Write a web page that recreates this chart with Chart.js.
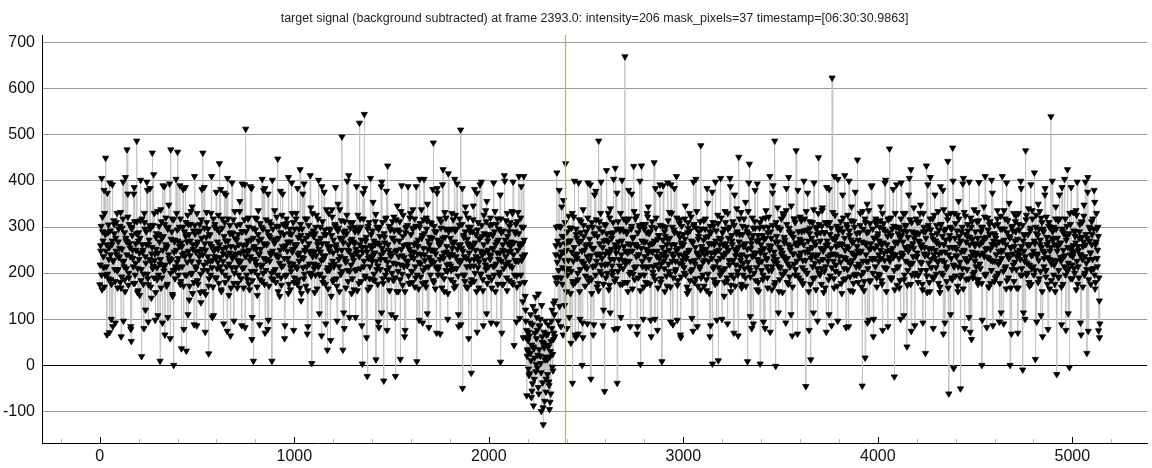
<!DOCTYPE html>
<html>
<head>
<meta charset="utf-8">
<script src="https://cdn.jsdelivr.net/npm/chart.js@4.4.1/dist/chart.umd.min.js"></script>
<style>
  body { margin: 0; background: #fff; }
</style>
</head>
<body>
<canvas id="signalChart" width="1152" height="468"></canvas>
<script>
// target signal, three interleaved samplings
// signalA: frames 0,5,10...  signalB: frames 2,7,12...  signalC: frames 4,9,14...
var frameStep = 5;
var offsetA = 0, offsetB = 2, offsetC = 4;
var currentFrame = 2393;
var titleText = 'target signal (background subtracted) at frame 2393.0: intensity=206 mask_pixels=37 timestamp=[06:30:30.9863]';

var signalA = [
    175, 248, 406, 290, 212, 330, 450, 262, 198, 305, 71, 240, 176, 392, 228, 286, 92, 310, 205, 268,
    236, 180, 62, 298, 398, 214, 160, 270, 468, 322, 190, 255, 78, 300, 232, 372, 178, 264, 487, 210,
    288, 152, 402, 19, 245, 198, 310, 120, 262, 380, 175, 230, 296, 146, 461, 215, 330, 98, 252, 186,
    244, 302, 9, 168, 276, 390, 205, 66, 320, 258, 104, 348, 226, 468, 290, 150, 0, 272, 214, 330,
    463, 196, 258, 318, 36, 240, 172, 290, 386, 31, 224, 306, 142, 270, 198, 344, 252, 88, 285, 210,
    330, 176, 248, 292, 136, 382, 461, 218, 264, 154, 310, 236, 25, 282, 196, 410, 228, 108, 300, 254,
    190, 268, 326, 438, 214, 160, 298, 242, 374, 180, 256, 74, 318, 220, 286, 168, 396, 238, 96, 276,
    212, 304, 178, 262, 356, 226, 86, 290, 248, 392, 513, 196, 270, 320, 164, 236, 384, 184, 9, 258,
    294, 218, 152, 336, 242, 186, 274, 404, 200, 262, 70, 316, 230, 372, 172, 278, 240, 9, 296, 204,
    266, 180, 322, 448, 236, 150, 288, 214, 372, 254, 58, 302, 196, 268, 408, 222, 164, 284, 246, 310,
    190, 258, 330, 176, 278, 226, 425, 140, 296, 212, 394, 248, 172, 318, 84, 264, 200, 342, 4, 236,
    280, 158, 300, 218, 262, 402, 196, 246, 64, 312, 230, 284, 176, 338, 33, 256, 206, 294, 150, 322,
    244, 186, 302, 262, 96, 350, 214, 276, 198, 496, 33, 288, 232, 168, 326, 250, 412, 204, 270, 156,
    310, 228, 264, 104, 388, 246, 296, 526, 210, 272, 3, 318, 545, 190, 256, -24, 302, 236, 170, 284,
    226, 354, 198, 262, 12, 300, 216, 82, 280, 240, 398, 188, -34, 266, 318, 206, 433, 250, 162, 294,
    238, 312, 184, 270, -24, 220, 346, 160, 290, 13, 252, 198, 326, 234, 76, 300, 216, 388, 262, 178,
    284, 204, 338, 246, 170, 302, 8, 258, 224, 404, 192, 276, 92, 316, 240, 180, 296, 350, 214, 262,
    196, 308, 250, 483, 224, 166, 290, 384, 208, 268, 68, 312, 236, 425, 188, 278, 320, 218, 156, 294,
    242, 186, 330, 264, 210, 404, 172, 296, 228, 84, 318, 511, 254, -50, 282, 196, 344, 232, 168, 300,
    258, 214, -17, 290, 346, 182, 266, 236, 72, 310, 224, 392, 198, 280, 162, 326, 246, 208, 356, 270,
    192, 304, 238, 168, 282, 396, 216, 262, 90, 318, 230, 196, 7, 288, 250, 176, 412, 272, 220, 330,
    246, 184, 310, 268, 212, 398, 43, 290, 226, 170, 332, 410, 258, 196, 300, 138, 410, 240, 96, -66,
    30, 72, -18, 110, 44, -40, -88, 16, 148, 58, -6, 155, 84, 20, -100, 62, -129, 38, 96, -30,
    12, 88, -44, -80, 52, 120, -12, 70, 140, 260, 418, 190, 302, 236, 84, 344, 212, 280, 130, 438,
    250, 196, 324, 270, 156, 298, -39, 226, 400, 180, 284, 242, 68, 316, 208, 270, 0, 338, 222, 172,
    290, 236, 396, 190, 262, -30, 310, 214, 88, 286, 378, 240, 178, 487, 264, 330, 198, 256, 120, -57,
    304, 423, 220, 268, 174, 340, 252, 196, 288, 78, 428, 244, -39, 312, 230, 176, 296, 402, 210, 258,
    670, 226, 290, 160, 318, 248, 202, 372, 276, 432, 186, 262, 324, 84, 240, 298, 2, 433, 214, 268,
    196, 306, 252, 178, 344, 230, 290, 62, 264, 214, 440, 186, 320, 248, 168, 282, 392, 220, 8, 272,
    238, 160, 300, 262, 396, 204, 276, 94, 330, 242, 190, 288, 226, 410, 174, 254, 308, 66, 266, 218,
    284, 200, 346, 232, 156, 298, 250, 184, 322, 268, 74, 306, 220, 404, 244, 172, 290, 210, 477, 258,
    196, 314, 240, 278, 162, 352, 226, 290, 86, 264, 3, 302, 214, 398, 248, 180, 10, 276, 232, 320,
    206, 262, 150, 334, 244, 190, 296, 228, 406, 174, 270, 312, 70, 252, 218, 340, 196, 452, 284, 236,
    168, 302, 258, 210, 354, 236, 8, 286, 437, 192, 264, 320, 90, 244, 298, 212, 394, 180, 272, 3,
    250, 318, 196, 274, 80, 336, 230, 288, 206, 410, 258, 164, 304, 226, 487, -2, 280, 342, 214, 186,
    296, 240, 158, 324, 266, 204, 384, 232, 176, 290, 250, 346, 64, 278, 220, 310, 466, 196, 262, 238,
    322, 184, 270, 228, 400, 206, -46, 294, 246, 160, 312, 12, 276, 214, 338, 190, 262, 300, 96, 451,
    226, 288, 176, 342, 252, 204, 310, 72, 270, 236, 382, 194, 298, 624, 242, 168, 326, 218, 280, 404,
    200, 264, 312, 156, 290, 234, 412, 188, 258, 326, 84, 282, 220, 344, 266, 178, 300, 240, 196, 446,
    272, 214, 330, 248, -45, 296, 182, 16, 262, 350, 226, 98, 308, 254, 390, 200, 276, 232, 318, 170,
    286, 240, 196, 344, 262, 76, 308, 228, 402, 210, 280, 318, 470, 250, 186, 296, 234, -25, 330, 268,
    212, 300, 168, 276, 396, 238, 292, 186, 330, 254, 40, 278, 222, 316, 425, 196, 264, 342, 86, 288,
    236, 310, 196, 268, 348, 222, 164, 290, 256, 26, 433, 240, 304, 180, 408, 212, 282, 80, 326, 250,
    198, 286, 334, 242, 170, 306, 228, 380, 262, 92, 296, 214, 443, -62, 274, 330, 190, 472, -7, 256,
    308, 236, 172, 356, 264, -51, 290, 210, 406, 248, 324, 186, 280, 228, 398, 72, 300, 246, 198, 338,
    260, 214, 312, 176, 397, 240, 290, 0, 268, 344, 196, 252, 82, 320, 232, 284, 178, 402, 226, 270,
    304, 190, 262, 336, 220, 94, 296, 246, 410, 204, 272, 318, 166, 288, 236, 352, 0, 256, 208, 292,
    182, 270, 324, 236, 70, 306, 250, 400, 210, -10, 284, 226, 466, 196, 262, 340, 172, 298, 238, 318,
    214, 418, 13, 286, 242, 350, 188, 272, 320, 160, 296, 232, 384, 206, 262, 78, 310, 248, 540, 276,
    228, 300, 176, 344, -20, 258, 206, 318, 266, 88, 290, 236, 404, 196, 280, 425, 222, -5, 306, 254,
    188, 332, 246, 290, 164, 398, 214, 276, 240, 66, 310, 258, 348, 200, 284, 26, 408, 230, 296, 176,
    262, 318, 210, 354, 180, 296, 250, 75, 60
];

var signalB = [
    218, 302, 164, 270, 380, 196, 248, 66, 288, 230, 396, 186, 262, 84, 314, 208, 276, 240, 168, 296,
    254, 332, 192, 226, 96, 288, 408, 210, 268, 174, 306, 236, 52, 282, 214, 386, 196, 250, 312, 162,
    230, 276, 184, 318, 250, 80, 296, 222, 398, 188, 262, 304, 170, 242, 210, 414, 228, 158, 286, 334,
    196, 268, 230, 312, 92, 280, 388, 218, 254, 176, 300, 232, 58, 274, 318, 206, 246, 188, 404, 224,
    270, 212, 390, 182, 258, 300, 78, 236, 280, 196, 326, 248, 172, 306, 226, 156, 292, 410, 214, 262,
    184, 290, 236, 158, 316, 252, 206, 386, 72, 278, 224, 296, 188, 264, 330, 212, 170, 248, 306, 232,
    296, 224, 178, 262, 382, 204, 252, 90, 310, 270, 214, 406, 190, 244, 64, 288, 232, 316, 200, 256,
    240, 168, 284, 222, 306, 188, 394, 260, 212, 82, 290, 246, 318, 176, 228, 272, 56, 298, 254, 204,
    226, 318, 196, 270, 88, 252, 300, 218, 380, 176, 264, 228, 290, 98, 312, 244, 200, 402, 186, 266,
    208, 274, 236, 160, 302, 250, 190, 326, 216, 284, 86, 260, 308, 232, 176, 296, 212, 396, 252, 76,
    296, 214, 262, 384, 186, 244, 306, 156, 270, 232, 198, 318, 256, 68, 282, 220, 412, 194, 248, 292,
    210, 286, 238, 166, 318, 252, 198, 276, 388, 180, 236, 294, 90, 264, 212, 330, 248, 54, 282, 226,
    272, 220, 386, 188, 250, 298, 160, 236, 314, 204, 266, 80, 292, 226, 400, 182, 248, 310, 218, 274,
    236, 164, 290, 252, 208, 326, 178, 262, 300, 86, 246, 214, 384, 270, 60, 296, 232, 188, 406, 254,
    292, 240, 184, 312, 226, 266, 94, 300, 208, 388, 254, 178, 286, 230, 320, 76, 262, 212, 296, 244,
    200, 276, 322, 190, 248, 160, 294, 236, 312, 218, 390, 174, 260, 62, 288, 226, 304, 194, 252, 330,
    236, 180, 298, 262, 214, 388, 196, 272, 98, 308, 240, 282, 206, 404, 228, 170, 314, 252, 82, 278,
    250, 222, 382, 180, 290, 242, 70, 272, 214, 318, 264, 196, 392, 232, 160, 296, 246, 204, 416, 220,
    276, 206, 254, 316, 168, 292, 236, 394, 194, 260, 222, 88, 306, 248, 278, 182, 330, 214, 264, 58,
    228, 300, 186, 262, 216, 382, 250, 160, 294, 232, 274, 198, 398, 240, 86, 286, 218, 312, 178, 250,
    284, 230, 92, 306, 252, 196, 334, 220, 268, 176, 296, 244, 318, 70, 262, 210, 400, 236, 190, 280,
    224, 302, 258, 180, 330, 240, 196, 286, 94, 312, 226, 264, 178, 388, 236, 60, 272, 150, 60, 20,
    54, -22, 92, 10, -56, 128, 36, 70, -14, 104, 22, -62, 86, 4, 130, -38, 48, -78, 18, 66,
    -20, 40, -96, 30, 96, -4, 56, 110, 190, 300, 224, 96, 380, 262, 190, 280, 66, 246, 310, 206,
    80, 268, 210, 298, 48, 246, 182, 322, 238, 60, 276, 200, 396, 160, 288, 226, 92, 304, 250, 194,
    262, 90, 300, 228, 392, 186, 254, 66, 284, 216, 316, 170, 242, 298, 204, 398, 232, 86, 270, 218,
    190, 286, 248, 164, 320, 230, 276, 204, 404, 182, 254, 296, 80, 268, 216, 330, 240, 176, 292, 226,
    248, 312, 180, 264, 226, 84, 296, 248, 198, 334, 262, 214, 68, 288, 240, 400, 196, 270, 306, 170,
    236, 180, 288, 322, 214, 262, 98, 300, 246, 194, 270, 384, 218, 76, 282, 232, 304, 188, 256, 390,
    210, 280, 236, 172, 314, 250, 198, 392, 226, 88, 294, 262, 208, 320, 184, 240, 278, 60, 302, 228,
    262, 318, 196, 244, 288, 162, 330, 226, 270, 208, 398, 180, 256, 298, 84, 274, 236, 312, 190, 248,
    224, 172, 296, 252, 384, 198, 264, 62, 288, 232, 310, 186, 244, 270, 98, 326, 212, 262, 406, 200,
    288, 236, 180, 310, 256, 90, 276, 218, 388, 196, 262, 228, 304, 172, 246, 290, 64, 268, 214, 332,
    240, 196, 318, 264, 172, 290, 224, 396, 206, 254, 80, 282, 238, 312, 184, 270, 230, 160, 298, 244,
    206, 282, 94, 254, 320, 232, 190, 300, 260, 72, 276, 214, 390, 246, 180, 310, 222, 268, 160, 296,
    250, 198, 330, 236, 272, 92, 306, 220, 408, 192, 258, 284, 170, 242, 318, 208, 266, 68, 290, 234,
    268, 314, 212, 178, 292, 246, 334, 200, 270, 76, 298, 232, 256, 188, 396, 222, 164, 284, 240, 306,
    196, 254, 302, 230, 158, 288, 214, 386, 262, 186, 310, 240, 86, 276, 226, 410, 204, 258, 172, 292,
    236, 296, 178, 262, 320, 210, 250, 82, 300, 226, 400, 192, 272, 244, 160, 312, 236, 198, 286, 248,
    220, 288, 246, 170, 334, 202, 266, 310, 226, 92, 290, 252, 184, 388, 230, 62, 276, 214, 306, 260,
    198, 270, 314, 232, 176, 296, 244, 396, 210, 262, 84, 288, 226, 320, 190, 254, 302, 164, 240, 392,
    266, 214, 298, 100, 282, 238, 330, 196, 256, 304, 174, 248, 406, 218, 74, 290, 236, 276, 200, 318,
    244, 180, 286, 330, 206, 262, 92, 300, 238, 276, 194, 392, 222, 160, 294, 254, 318, 188, 232, 270,
    304, 226, 178, 262, 388, 200, 280, 68, 292, 246, 210, 326, 168, 256, 300, 232, 186, 400, 214, 276,
    238, 292, 160, 318, 224, 270, 196, 394, 250, 80, 284, 226, 306, 188, 262, 320, 56, 274, 240, 202,
    290, 244, 332, 186, 262, 210, 300, 98, 276, 236, 410, 198, 254, 294, 170, 312, 228, 262, 86, 286,
    226, 276, 194, 306, 248, 178, 324, 232, 268, 90, 296, 214, 396, 240, 190, 280, 256, 68, 302, 218,
    258, 312, 208, 246, 168, 294, 230, 384, 196, 270, 248, 100, 316, 222, 284, 180, 262, 392, 210, 240,
    196, 264, 300, 94, 282, 228, 334, 204, 256, 62, 290, 244, 206, 322, 176, 268, 230, 298, 184, 400,
    272, 218, 160, 296, 248, 314, 192, 264, 226, 386, 176, 286, 238, 76, 302, 256, 210, 330, 188, 248,
    236, 292, 200, 266, 326, 176, 250, 290, 92, 312, 230, 268, 196, 398, 222, 276, 74, 300, 244, 206,
    284, 210, 380, 166, 268, 232, 300, 190, 90
];

var signalC = [
    260, 196, 322, 236, 170, 284, 214, 374, 188, 256, 292, 100, 270, 226, 306, 182, 248, 330, 208, 234,
    302, 168, 252, 318, 226, 186, 276, 240, 372, 200, 264, 84, 296, 250, 178, 312, 222, 286, 158, 270,
    244, 314, 208, 262, 176, 330, 236, 290, 198, 94, 272, 384, 224, 256, 304, 190, 242, 278, 212, 108,
    284, 220, 338, 190, 250, 214, 306, 262, 172, 296, 240, 394, 200, 230, 154, 316, 268, 208, 250, 294,
    232, 300, 176, 266, 214, 382, 244, 196, 310, 268, 110, 284, 238, 334, 200, 262, 180, 304, 246, 86,
    268, 224, 306, 198, 276, 240, 160, 298, 250, 332, 206, 172, 284, 226, 258, 104, 318, 236, 190, 376,
    210, 252, 290, 234, 164, 318, 226, 280, 196, 370, 238, 270, 152, 304, 258, 212, 286, 178, 334, 242,
    272, 228, 196, 334, 244, 290, 210, 168, 316, 236, 262, 186, 300, 250, 388, 204, 104, 276, 230, 320,
    252, 170, 284, 240, 308, 214, 182, 296, 232, 384, 206, 262, 78, 282, 226, 306, 188, 248, 272, 336,
    240, 302, 196, 276, 222, 378, 174, 258, 306, 232, 194, 318, 248, 156, 286, 268, 204, 330, 220, 180,
    262, 318, 210, 240, 296, 168, 282, 234, 372, 188, 250, 276, 214, 162, 304, 246, 198, 286, 330, 220,
    246, 196, 326, 270, 214, 112, 300, 228, 264, 190, 376, 238, 284, 206, 166, 296, 258, 218, 338, 182,
    214, 306, 256, 172, 292, 230, 338, 198, 250, 276, 114, 312, 224, 286, 206, 262, 104, 298, 240, 188,
    268, 300, 206, 244, 162, 290, 236, 318, 182, 256, 374, 226, 194, 278, 246, 164, 310, 214, 260, 234,
    186, 270, 244, 328, 208, 176, 296, 262, 230, 114, 310, 246, 278, 196, 378, 224, 186, 302, 238, 110,
    276, 222, 292, 104, 316, 250, 204, 270, 186, 334, 238, 280, 214, 160, 298, 262, 226, 178, 320, 246,
    204, 296, 232, 318, 190, 266, 242, 166, 300, 220, 338, 178, 254, 286, 212, 320, 112, 270, 234, 310,
    228, 276, 184, 302, 250, 212, 374, 196, 262, 230, 298, 168, 276, 244, 332, 206, 258, 100, 290, 236,
    216, 296, 240, 180, 268, 326, 210, 252, 110, 304, 262, 228, 384, 196, 236, 290, 170, 274, 320, 244,
    290, 178, 256, 316, 230, 200, 284, 374, 212, 168, 276, 248, 304, 186, 262, 228, 336, 112, 280, 214,
    240, 320, 186, 254, 214, 290, 160, 306, 244, 272, 202, 370, 226, 176, 292, 248, 220, 314, 162, 264,
    290, 216, 248, 334, 176, 266, 228, 306, 194, 250, 286, 102, 320, 228, 264, 300, 180, 120, 76, 34,
    -8, 64, 26, -70, 88, 40, -30, 118, 2, 76, -48, 34, 100, -16, 50, -92, 72, 12, -58, 44,
    68, -36, 18, -62, 80, 24, 134, 62, 240, 178, 270, 206, 128, 300, 246, 176, 358, 228, 264, 160,
    290, 228, 104, 270, 204, 330, 176, 256, 66, 296, 232, 186, 266, 100, 312, 248, 60, 280, 214, 258,
    210, 320, 182, 274, 238, 156, 300, 254, 370, 196, 226, 280, 162, 312, 240, 218, 290, 176, 306, 242,
    272, 200, 330, 242, 114, 286, 216, 310, 230, 262, 188, 374, 204, 256, 292, 104, 270, 228, 318, 180,
    220, 286, 244, 380, 198, 262, 302, 166, 278, 212, 318, 236, 258, 190, 304, 162, 254, 226, 100, 296,
    268, 212, 330, 244, 286, 176, 248, 312, 202, 266, 100, 298, 236, 274, 210, 372, 180, 242, 302, 226,
    290, 246, 194, 274, 220, 332, 170, 262, 300, 236, 384, 204, 250, 98, 286, 222, 316, 192, 260, 238,
    212, 274, 240, 170, 310, 248, 292, 204, 102, 266, 302, 228, 188, 334, 240, 280, 214, 164, 296, 252,
    272, 228, 318, 186, 244, 280, 156, 302, 244, 376, 210, 262, 176, 292, 226, 308, 250, 196, 274, 100,
    240, 296, 210, 264, 182, 330, 250, 300, 160, 282, 226, 190, 370, 238, 286, 204, 256, 318, 228, 176,
    284, 222, 260, 190, 300, 252, 334, 212, 106, 274, 236, 298, 200, 380, 244, 164, 282, 222, 310, 262,
    226, 186, 300, 240, 276, 214, 168, 322, 250, 290, 206, 374, 236, 174, 268, 230, 300, 114, 256, 212,
    318, 244, 198, 278, 230, 336, 180, 262, 298, 214, 110, 286, 242, 318, 196, 262, 226, 380, 190, 274,
    244, 290, 176, 262, 318, 228, 200, 374, 252, 286, 176, 240, 310, 114, 268, 236, 296, 210, 330, 200,
    270, 210, 336, 248, 288, 168, 260, 306, 226, 110, 284, 254, 212, 332, 188, 272, 240, 302, 96, 262,
    298, 224, 262, 370, 186, 276, 232, 306, 208, 254, 292, 162, 314, 228, 268, 196, 376, 214, 258, 180,
    246, 304, 196, 268, 226, 162, 318, 240, 288, 210, 336, 182, 264, 232, 296, 100, 254, 312, 190, 280,
    226, 300, 250, 184, 330, 266, 212, 292, 160, 248, 316, 234, 190, 282, 242, 382, 206, 266, 300, 174,
    286, 232, 184, 318, 244, 268, 108, 304, 226, 290, 206, 370, 258, 176, 310, 222, 254, 196, 282, 236,
    196, 270, 312, 224, 256, 176, 330, 242, 290, 206, 158, 298, 252, 318, 230, 192, 274, 240, 370, 212,
    266, 224, 294, 158, 306, 246, 196, 338, 224, 272, 182, 316, 240, 282, 110, 296, 256, 218, 330, 194,
    252, 326, 214, 280, 190, 246, 300, 166, 332, 232, 268, 208, 292, 104, 278, 236, 312, 190, 264, 226,
    238, 186, 276, 314, 220, 264, 178, 300, 244, 322, 196, 278, 234, 170, 306, 252, 206, 374, 262, 182,
    282, 240, 318, 200, 268, 226, 114, 296, 250, 336, 210, 262, 184, 314, 232, 276, 168, 300, 242, 330,
    224, 290, 168, 274, 330, 240, 196, 258, 304, 114, 282, 236, 326, 200, 260, 218, 292, 176, 336, 248,
    270, 206, 326, 238, 180, 296, 262, 108, 310, 248, 214, 370, 192, 278, 234, 302, 166, 256, 220, 290,
    196, 262, 318, 228, 276, 190, 370, 234, 170, 296, 250, 214, 318, 272, 204, 112, 286, 240, 386, 218,
    260, 210, 280, 336, 226, 258, 190, 306, 240, 278, 170, 324, 236, 262, 208, 376, 186, 270, 244, 312,
    230, 296, 196, 262, 330, 214, 280, 140
];

function toPoints(values, offset) {
    return values.map(function (v, i) {
        return { x: offset + i * frameStep, y: v };
    });
}

var points = toPoints(signalA, offsetA)
    .concat(toPoints(signalB, offsetB), toPoints(signalC, offsetC))
    .sort(function (a, b) { return a.x - b.x; });

var fontFamily = '"Liberation Sans", Arial, Helvetica, sans-serif';

// inward x ticks + marker of the current frame
var overlay = {
    id: 'overlay',
    afterDatasetsDraw: function (chart) {
        var ctx = chart.ctx;
        var xs = chart.scales.x;
        var area = chart.chartArea;
        ctx.save();
        var px = Math.round(xs.getPixelForValue(currentFrame)) + 0.5;
        ctx.strokeStyle = '#c2b82e';
        ctx.lineWidth = 1.2;
        ctx.beginPath();
        ctx.moveTo(px, area.top);
        ctx.lineTo(px, area.bottom);
        ctx.stroke();

        ctx.lineWidth = 1;
        xs.ticks.forEach(function (t) {
            var major = t.value % 1000 === 0;
            var tx = Math.round(xs.getPixelForValue(t.value)) + 0.5;
            ctx.strokeStyle = major ? '#000' : '#bbbbbb';
            ctx.beginPath();
            ctx.moveTo(tx, area.bottom);
            ctx.lineTo(tx, area.bottom - (major ? 6 : 4));
            ctx.stroke();
        });
        ctx.restore();
    }
};

new Chart('signalChart', {
    type: 'line',
    data: {
        datasets: [{
            data: points,
            borderColor: '#c4c4c4',
            borderWidth: 1,
            pointStyle: 'triangle',
            rotation: 180,
            pointRadius: 3.6,
            pointBackgroundColor: '#000',
            pointBorderColor: '#000',
            pointBorderWidth: 0.8,
            fill: false,
            tension: 0
        }]
    },
    options: {
        responsive: false,
        animation: false,
        layout: { padding: { right: 2 } },
        plugins: {
            legend: { display: false },
            tooltip: { enabled: false },
            title: {
                display: true,
                text: titleText,
                fullSize: false,
                color: '#222',
                font: { family: fontFamily, size: 12.5, weight: 'normal' },
                padding: { top: 11, bottom: 9 }
            }
        },
        scales: {
            x: {
                type: 'linear',
                min: -297,
                max: 5385,
                afterFit: function (s) { s.height = 25; },
                grid: { display: true, drawOnChartArea: false, drawTicks: false },
                border: { color: '#000', width: 1 },
                ticks: {
                    stepSize: 200,
                    includeBounds: false,
                    autoSkip: false,
                    maxRotation: 0,
                    padding: 4,
                    color: '#111',
                    font: { family: fontFamily, size: 16 },
                    callback: function (v) { return v % 1000 === 0 ? v : ''; }
                }
            },
            y: {
                min: -169,
                max: 717,
                afterFit: function (s) { s.width = 42; },
                grid: {
                    drawTicks: false,
                    color: function (c) { return c.tick && c.tick.value === 0 ? '#000' : '#9a9a9a'; },
                    lineWidth: 1
                },
                border: { color: '#000', width: 1 },
                ticks: {
                    stepSize: 100,
                    includeBounds: false,
                    padding: 7,
                    color: '#111',
                    font: { family: fontFamily, size: 16 }
                }
            }
        }
    },
    plugins: [overlay]
});
</script>
</body>
</html>
